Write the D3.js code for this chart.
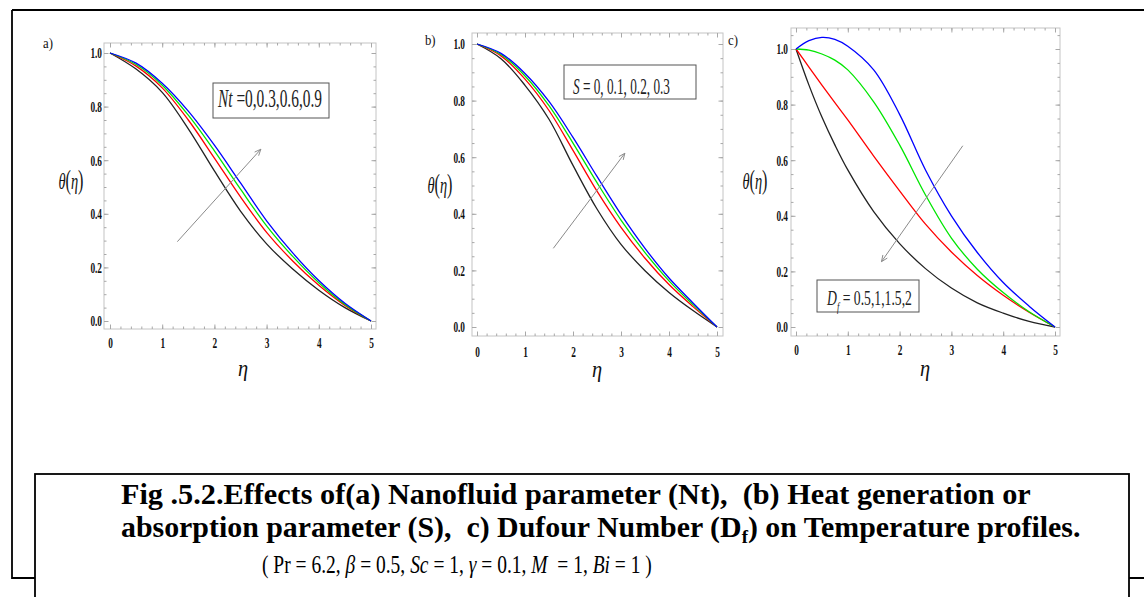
<!DOCTYPE html>
<html><head><meta charset="utf-8">
<script src="https://cdn.jsdelivr.net/npm/d3@7"></script>
<style>body{margin:0;background:#fff;} svg{display:block;} text{white-space:pre;}</style>
</head><body>
<svg id="c" width="1144" height="597"></svg>
<script>
// ---------------- DATA ----------------
const xTicks = [0, 1, 2, 3, 4, 5];
const yTicks = [0, 0.2, 0.4, 0.6, 0.8, 1.0];
const yTickLabels = ["0.0", "0.2", "0.4", "0.6", "0.8", "1.0"];

// panel a : Nt
const etaA = [0, 0.5, 1, 1.5, 2, 2.5, 3, 3.5, 4, 4.5, 5];
const ntValues = ["0", "0.3", "0.6", "0.9"];
const thetaNt0  = [1, 0.940, 0.853, 0.717, 0.560, 0.410, 0.288, 0.194, 0.115, 0.050, 0];
const thetaNt03 = [1, 0.951, 0.870, 0.750, 0.608, 0.463, 0.331, 0.224, 0.133, 0.058, 0];
const thetaNt06 = [1, 0.957, 0.880, 0.768, 0.635, 0.492, 0.355, 0.241, 0.143, 0.062, 0];
const thetaNt09 = [1, 0.962, 0.887, 0.783, 0.656, 0.515, 0.374, 0.254, 0.151, 0.066, 0];

// panel b : S
const etaB = [0, 0.5, 1, 1.5, 2, 2.5, 3, 3.5, 4, 4.5, 5];
const sValues = ["0", "0.1", "0.2", "0.3"];
const thetaS0  = [1, 0.948, 0.854, 0.734, 0.571, 0.417, 0.292, 0.199, 0.122, 0.058, 0];
const thetaS01 = [1, 0.958, 0.876, 0.765, 0.624, 0.480, 0.352, 0.243, 0.150, 0.072, 0];
const thetaS02 = [1, 0.963, 0.887, 0.782, 0.650, 0.510, 0.378, 0.263, 0.163, 0.079, 0];
const thetaS03 = [1, 0.967, 0.896, 0.797, 0.670, 0.532, 0.398, 0.278, 0.173, 0.085, 0];

// panel c : Df
const etaC = [0, 0.25, 0.5, 0.75, 1, 1.5, 2, 2.5, 3, 3.5, 4, 4.5, 5];
const dfValues = ["0.5", "1", "1.5", "2"];
const thetaDf05 = [1, 1.030, 1.042, 1.035, 1.010, 0.925, 0.765, 0.565, 0.400, 0.268, 0.160, 0.075, 0];
const thetaDf1  = [1, 0.996, 0.982, 0.960, 0.925, 0.810, 0.655, 0.475, 0.320, 0.208, 0.124, 0.055, 0];
const thetaDf15 = [1, 0.935, 0.870, 0.807, 0.745, 0.615, 0.490, 0.370, 0.270, 0.185, 0.114, 0.053, 0];
const thetaDf2  = [1, 0.870, 0.755, 0.655, 0.565, 0.415, 0.300, 0.210, 0.140, 0.087, 0.050, 0.020, 0];

// arrows (data coordinates: [eta, theta])
const arrowA = [[1.29, 0.296], [2.89, 0.641]];
const arrowB = [[1.59, 0.278], [3.08, 0.614]];
const arrowC = [[3.22, 0.652], [1.65, 0.235]];

const captionLine1 = "Fig .5.2.Effects of(a) Nanofluid parameter (Nt),  (b) Heat generation or";
const captionLine2a = "absorption parameter (S),  c) Dufour Number (D";
const captionLine2sub = "f";
const captionLine2b = ") on Temperature profiles.";

// ---------------- DRAW ----------------
const svg = d3.select("#c");
const SERIF = "'Liberation Serif','Times New Roman',serif";

svg.append("defs").append("marker")
  .attr("id", "ah").attr("viewBox", "-9 -5 10 10").attr("refX", 0).attr("refY", 0)
  .attr("markerWidth", 9).attr("markerHeight", 9).attr("markerUnits", "userSpaceOnUse")
  .attr("orient", "auto")
  .append("path").attr("d", "M-7,-3L0,0L-7,3").attr("fill", "none")
  .attr("stroke", "#8a8a8a").attr("stroke-width", 1);

// outer frame
svg.append("path")
  .attr("d", "M12,10H1144M12,10V578H36M1128,578H1144")
  .attr("fill", "none").attr("stroke", "#000").attr("stroke-width", 1.8);

function fitText(t, x, y, w, sy) {
  const bw = t.node().getComputedTextLength();
  t.attr("x", 0).attr("y", 0).attr("transform", `translate(${x},${y}) scale(${w / bw},${sy || 1})`);
}

function drawPanel(cfg) {
  const x = d3.scaleLinear().domain([0, 5]).range([cfg.x0, cfg.x5]);
  const y = d3.scaleLinear().domain([0, 1]).range([cfg.y0, cfg.y1]);
  const [fx0, fy0, fx1, fy1] = cfg.frame;
  const xMin = x.invert(fx0), xMax = x.invert(fx1);
  const yMin = y.invert(fy1), yMax = y.invert(fy0);
  const xMinor = d3.range(-5, 30).map(i => i / 5).filter(v => v > xMin && v < xMax);
  const yMinor = d3.range(-5, 25).map(i => i / 20).filter(v => v > yMin && v < yMax);
  const g = svg.append("g");

  g.append("rect").attr("x", fx0).attr("y", fy0).attr("width", fx1 - fx0).attr("height", fy1 - fy0)
    .attr("fill", "none").attr("stroke", "#c4c4c4").attr("stroke-width", 1);

  function ax(gen, scale, tr, vals, size, fmt, pad) {
    const a = g.append("g").attr("transform", tr)
      .call(gen(scale).tickValues(vals).tickSize(-size).tickSizeOuter(0).tickPadding(pad || 0).tickFormat(fmt));
    a.select(".domain").remove();
    a.selectAll("line").attr("stroke", "#a8a8a8").attr("stroke-width", 1);
    a.attr("font-family", SERIF).attr("font-size", 15).attr("font-weight", "bold");
    a.selectAll("text").attr("fill", "#111");
    return a;
  }
  const none = () => "";
  ax(d3.axisBottom, x, `translate(0,${fy1})`, xMinor, 2.5, none);
  ax(d3.axisTop, x, `translate(0,${fy0})`, xMinor, 2.5, none);
  ax(d3.axisLeft, y, `translate(${fx0},0)`, yMinor, 2.5, none);
  ax(d3.axisRight, y, `translate(${fx1},0)`, yMinor, 2.5, none);
  const bx = ax(d3.axisBottom, x, `translate(0,${fy1})`, xTicks, 4.5, d3.format("d"), cfg.xPad);
  bx.selectAll("text").attr("transform", "scale(0.62,1)");
  ax(d3.axisTop, x, `translate(0,${fy0})`, xTicks, 4.5, none);
  const ly = ax(d3.axisLeft, y, `translate(${fx0},0)`, yTicks, 4.5, (d, i) => yTickLabels[i], 0);
  ly.selectAll("text").attr("x", -cfg.yPad / 0.62).attr("transform", "scale(0.62,1)");
  ax(d3.axisRight, y, `translate(${fx1},0)`, yTicks, 4.5, none);

  const line = d3.line().x(d => x(d[0])).y(d => y(d[1])).curve(d3.curveCatmullRom.alpha(0.5));
  cfg.series.forEach(s => {
    g.append("path").datum(cfg.eta.map((e, i) => [e, s.vals[i]]))
      .attr("d", line).attr("fill", "none").attr("stroke", s.color).attr("stroke-width", 1.3);
  });

  g.append("line")
    .attr("x1", x(cfg.arrow[0][0])).attr("y1", y(cfg.arrow[0][1]))
    .attr("x2", x(cfg.arrow[1][0])).attr("y2", y(cfg.arrow[1][1]))
    .attr("stroke", "#8a8a8a").attr("stroke-width", 1).attr("marker-end", "url(#ah)");

  const lb = cfg.legend;
  g.append("rect").attr("x", lb.box[0]).attr("y", lb.box[1])
    .attr("width", lb.box[2] - lb.box[0]).attr("height", lb.box[3] - lb.box[1])
    .attr("fill", "#fff").attr("stroke", "#555").attr("stroke-width", 1);
  const lt = g.append("text").attr("font-family", SERIF).attr("font-size", lb.size).attr("fill", "#222");
  lb.parts.forEach(p => {
    const ts = lt.append("tspan").text(p.t);
    if (p.it) ts.attr("font-style", "italic");
    if (p.sub) ts.attr("font-size", lb.size * 0.62).attr("dy", lb.size * 0.3);
    if (p.back) ts.attr("dy", -lb.size * 0.3);
  });
  fitText(lt, lb.tx, lb.ty, lb.tw);

  const th = g.append("text").attr("font-family", SERIF).attr("font-size", 24).attr("text-anchor", "middle").attr("fill", "#111");
  th.append("tspan").attr("font-style", "italic").text("\u03b8");
  th.append("tspan").attr("font-size", 27).text("(");
  th.append("tspan").attr("font-style", "italic").text("\u03b7");
  th.append("tspan").attr("font-size", 27).text(")");
  th.attr("transform", `translate(${cfg.thPos[0]},${cfg.thPos[1]}) scale(0.6,1)`);

  g.append("text").attr("font-family", SERIF).attr("font-size", 24).attr("font-style", "italic")
    .attr("text-anchor", "middle").attr("fill", "#111")
    .attr("transform", `translate(${cfg.etaPos[0]},${cfg.etaPos[1]}) scale(0.85,1)`).text("\u03b7");

  g.append("text").attr("font-family", SERIF).attr("font-size", 15).attr("fill", "#111")
    .attr("transform", `translate(${cfg.lblPos[0]},${cfg.lblPos[1]}) scale(0.85,1)`).text(cfg.label);
}

drawPanel({
  x0: 110, x5: 371, y0: 321, y1: 53, frame: [104, 43, 376, 329], xPad: 8.3, yPad: 2,
  eta: etaA,
  series: [
    { vals: thetaNt0, color: "#222" }, { vals: thetaNt03, color: "#ff0000" },
    { vals: thetaNt06, color: "#00e600" }, { vals: thetaNt09, color: "#0000ff" }],
  arrow: arrowA,
  legend: { box: [213, 83, 329, 118], tx: 218, ty: 107, tw: 104, size: 25,
    parts: [{ t: "Nt", it: true }, { t: " =" + ntValues.join(",") }] },
  thPos: [71, 189], etaPos: [243, 376], lblPos: [43, 48], label: "a)"
});
drawPanel({
  x0: 477, x5: 717, y0: 327, y1: 44, frame: [472, 33, 723, 336], xPad: 10.3, yPad: 7,
  eta: etaB,
  series: [
    { vals: thetaS0, color: "#222" }, { vals: thetaS01, color: "#ff0000" },
    { vals: thetaS02, color: "#00e600" }, { vals: thetaS03, color: "#0000ff" }],
  arrow: arrowB,
  legend: { box: [564, 65, 696, 99], tx: 573, ty: 94, tw: 97, size: 23,
    parts: [{ t: "S", it: true }, { t: " = " + sValues.join(", ") }] },
  thPos: [440, 193], etaPos: [597, 377], lblPos: [425, 45], label: "b)"
});
drawPanel({
  x0: 796, x5: 1055, y0: 327, y1: 49, frame: [791, 28, 1060, 336], xPad: 8.3, yPad: 3,
  eta: etaC,
  series: [
    { vals: thetaDf2, color: "#222" }, { vals: thetaDf15, color: "#ff0000" },
    { vals: thetaDf1, color: "#00e600" }, { vals: thetaDf05, color: "#0000ff" }],
  arrow: arrowC,
  legend: { box: [817, 280, 919, 312], tx: 827, ty: 305, tw: 85, size: 20,
    parts: [{ t: "D", it: true }, { t: "f", it: true, sub: true }, { t: " = " + dfValues.join(","), back: true }] },
  thPos: [755, 189], etaPos: [925, 376], lblPos: [728, 45], label: "c)"
});

// caption box
svg.append("rect").attr("x", 35).attr("y", 474).attr("width", 1094).attr("height", 200)
  .attr("fill", "#fff").attr("stroke", "#000").attr("stroke-width", 1.8);

const c1 = svg.append("text").attr("font-family", SERIF).attr("font-size", 27)
  .attr("font-weight", "bold").attr("fill", "#000").text(captionLine1);
fitText(c1, 121, 504, 910, 1.12);
const c2 = svg.append("text").attr("font-family", SERIF).attr("font-size", 27)
  .attr("font-weight", "bold").attr("fill", "#000");
c2.append("tspan").text(captionLine2a);
c2.append("tspan").attr("font-size", 17).attr("dy", 5).text(captionLine2sub);
c2.append("tspan").attr("dy", -5).text(captionLine2b);
fitText(c2, 121, 537, 960, 1.12);

const params = [
  { t: "( " }, { t: "Pr" }, { t: " = 6.2, " }, { t: "\u03b2", it: true }, { t: " = 0.5, " },
  { t: "Sc", it: true }, { t: " = 1, " }, { t: "\u03b3", it: true }, { t: " = 0.1, " },
  { t: "M", it: true }, { t: "  = 1, " }, { t: "Bi", it: true }, { t: " = 1 )" }];
const c3 = svg.append("text").attr("font-family", SERIF).attr("font-size", 23).attr("fill", "#000");
params.forEach(p => { const ts = c3.append("tspan").text(p.t); if (p.it) ts.attr("font-style", "italic"); });
fitText(c3, 262, 573, 390, 1.1);
</script>
</body></html>
